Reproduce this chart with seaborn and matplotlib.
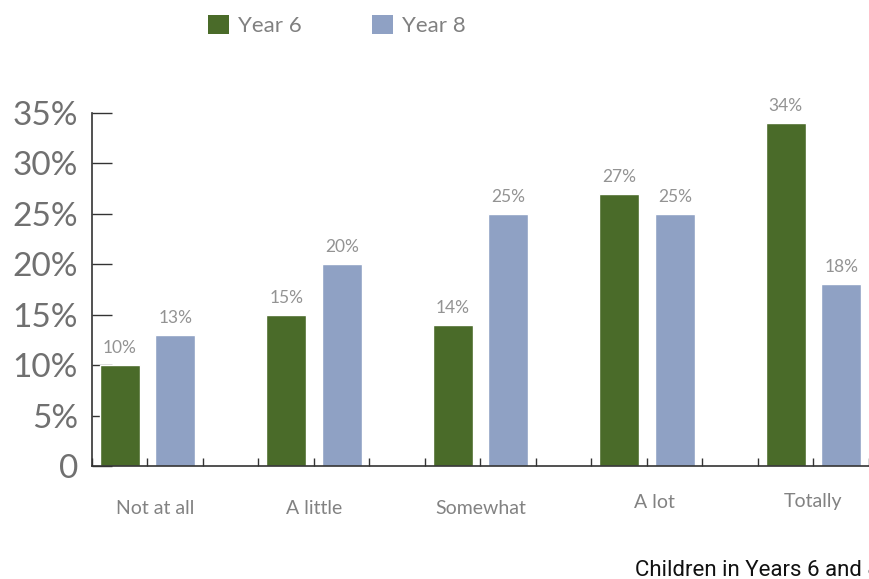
import matplotlib
matplotlib.use("Agg")
import matplotlib.pyplot as plt
import seaborn as sns
import pandas as pd
from matplotlib.patches import Patch

categories = ["Not at all", "A little", "Somewhat", "A lot", "Totally"]
year6 = [10, 15, 14, 27, 34]
year8 = [13, 20, 25, 25, 18]
series_names = ["Year 6", "Year 8"]
y_ticks = [0, 5, 10, 15, 20, 25, 30, 35]
y_tick_labels = ["0", "5%", "10%", "15%", "20%", "25%", "30%", "35%"]

GREEN = "#4a6b29"
BLUE = "#8fa1c4"

sns.set_theme(style="white")
plt.rcParams["font.family"] = ["Lato", "DejaVu Sans"]

rows = []
for i, c in enumerate(categories):
    rows.append({"pos": 3 * i + 0.5, "value": year6[i], "series": series_names[0]})
    rows.append({"pos": 3 * i + 1.5, "value": year8[i], "series": series_names[1]})
df = pd.DataFrame(rows)

fig = plt.figure(figsize=(8.7, 5.79), dpi=100)
ax = fig.add_axes([92 / 870, (579 - 466) / 579, 777 / 870, 353 / 579])

sns.barplot(data=df, x="pos", y="value", hue="series", native_scale=True,
            dodge=False, width=0.72, palette=[GREEN, BLUE], ax=ax,
            legend=False, saturation=1, zorder=2)

ax.set_xlim(0, 14)
ax.set_ylim(0, 35)
ax.set_xlabel("")
ax.set_ylabel("")

# bar value labels
for p, v in zip(df["pos"], df["value"]):
    ax.text(p, v + 0.9, f"{v}%", ha="center", va="bottom", fontsize=12.5,
            color="#939393", fontweight="normal")

# y axis
ax.set_yticks(y_ticks)
ax.set_yticklabels(y_tick_labels, fontsize=24, color="#707070", fontweight="normal")
ax.tick_params(axis="y", direction="in", length=14.5, width=1, color="#333333",
               pad=10, left=True)
# x axis ticks
ax.set_xticks(range(0, 15))
ax.set_xticklabels([])
ax.tick_params(axis="x", direction="in", length=6, width=1, color="#333333",
               bottom=True)

for s in ["top", "right"]:
    ax.spines[s].set_visible(False)
for s in ["left", "bottom"]:
    ax.spines[s].set_color("#333333")
    ax.spines[s].set_linewidth(1.2)
    ax.spines[s].set_zorder(3)

# category labels (slightly varying vertical positions as in reference)
label_x = [1.14, 4.0, 7.0, 10.14, 13.0]
label_y_px = [508, 509, 509, 503, 502]
for c, lx, ly in zip(categories, label_x, label_y_px):
    fig.text((92 + lx * 777 / 14) / 870, 1 - ly / 579, c, ha="center", va="center",
             fontsize=14, color="#828282", fontweight="normal")

# legend
handles = [Patch(facecolor=GREEN, edgecolor="none"), Patch(facecolor=BLUE, edgecolor="none")]
leg = fig.legend(handles, series_names, loc="upper left",
                 bbox_to_anchor=(188 / 870, 1 + 5 / 579), ncol=2, frameon=False,
                 fontsize=16, handlelength=0.95, handleheight=0.95,
                 columnspacing=3.15, handletextpad=0.4)
for t in leg.get_texts():
    t.set_color("#808080")
    t.set_fontweight("normal")

fig.text(635 / 870, 1 - 570 / 579, "Children in Years 6 and 8", ha="left",
         va="center", fontsize=16, color="#111111", family=["Roboto", "DejaVu Sans"])

fig.savefig("out.png", dpi=100)
